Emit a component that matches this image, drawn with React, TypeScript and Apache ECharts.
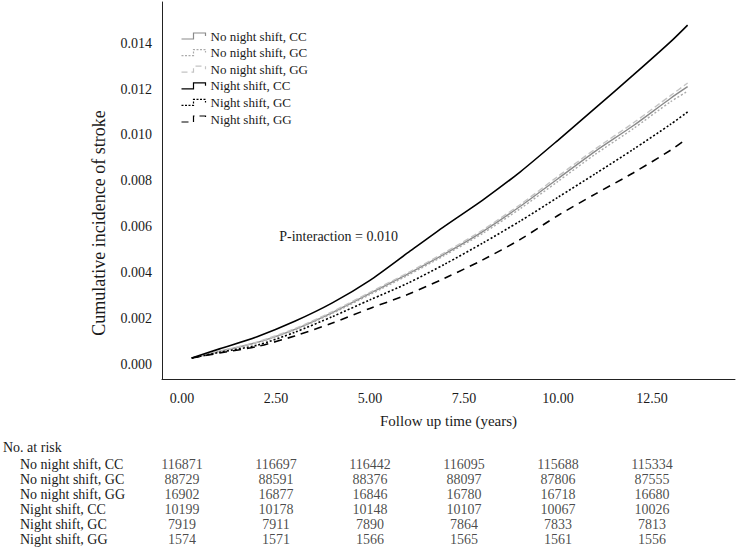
import React, { useEffect, useRef } from "react";
import * as echarts from "echarts";

// Follow-up time points (years)
const followUp = [0.26, 1, 2, 3, 4, 5, 6, 7, 8, 9, 10, 11, 12, 13, 13.45];
const followUpNightGG = [0.26, 1, 2, 3, 4, 5, 6, 7, 8, 9, 10, 11, 12, 13, 13.38];

// Cumulative incidence of stroke
const noNightCC = [0.0003, 0.00059, 0.00098, 0.00155, 0.00228, 0.00311, 0.00395, 0.00484, 0.0058, 0.0069, 0.0081, 0.0093, 0.0104, 0.0116, 0.0121];
const noNightGC = [0.0003, 0.00058, 0.00096, 0.00152, 0.00224, 0.00306, 0.00389, 0.00478, 0.00572, 0.0068, 0.00798, 0.00917, 0.01027, 0.01145, 0.0119];
const noNightGG = [0.0003, 0.0006, 0.001, 0.00158, 0.00232, 0.00316, 0.004, 0.0049, 0.00587, 0.00698, 0.0082, 0.0094, 0.01052, 0.01172, 0.01226];
const nightCC = [0.0003, 0.0007, 0.00123, 0.0019, 0.0027, 0.00368, 0.00487, 0.00605, 0.00717, 0.0084, 0.00977, 0.01118, 0.0126, 0.01406, 0.01478];
const nightGC = [0.0003, 0.00055, 0.00086, 0.00142, 0.0021, 0.00283, 0.00355, 0.00439, 0.0053, 0.00626, 0.00729, 0.00832, 0.00937, 0.01047, 0.011];
const nightGG = [0.0003, 0.00052, 0.0008, 0.00126, 0.00182, 0.00246, 0.00306, 0.00378, 0.00457, 0.00546, 0.0065, 0.00744, 0.00835, 0.00934, 0.00978];

// Axis ticks
const xTicks = [0, 2.5, 5, 7.5, 10, 12.5];
const yTicks = [0, 0.002, 0.004, 0.006, 0.008, 0.01, 0.012, 0.014];

// Number at risk table
const riskTimes = [0, 2.5, 5, 7.5, 10, 12.5];
const groupNames = [
  "No night shift, CC",
  "No night shift, GC",
  "No night shift, GG",
  "Night shift, CC",
  "Night shift, GC",
  "Night shift, GG",
];
const riskNoNightCC = [116871, 116697, 116442, 116095, 115688, 115334];
const riskNoNightGC = [88729, 88591, 88376, 88097, 87806, 87555];
const riskNoNightGG = [16902, 16877, 16846, 16780, 16718, 16680];
const riskNightCC = [10199, 10178, 10148, 10107, 10067, 10026];
const riskNightGC = [7919, 7911, 7890, 7864, 7833, 7813];
const riskNightGG = [1574, 1571, 1566, 1565, 1561, 1556];

const FONT = "'Liberation Serif', 'Times New Roman', serif";
const TXT = "#1a1a1a";

export default function App() {
  const ref = useRef<HTMLDivElement>(null);

  useEffect(() => {
    document.body.style.margin = "0";
    if (!ref.current) return;
    const chart = echarts.init(ref.current, undefined, { renderer: "svg" });

    const curveDefs = [
      { name: groupNames[0], t: followUp, v: noNightCC, color: "#8a8a8a", dash: "solid" as any, dashIcon: "solid" as any, w: 1.4 },
      { name: groupNames[1], t: followUp, v: noNightGC, color: "#ababab", dash: [2, 2], dashIcon: [2, 1.5], w: 1.4 },
      { name: groupNames[2], t: followUp, v: noNightGG, color: "#c4c4c4", dash: [6, 3], dashIcon: [6, 4], w: 1.4 },
      { name: groupNames[3], t: followUp, v: nightCC, color: "#000000", dash: "solid" as any, dashIcon: "solid" as any, w: 1.6 },
      { name: groupNames[4], t: followUp, v: nightGC, color: "#000000", dash: [2, 2], dashIcon: [2, 1.5], w: 1.6 },
      { name: groupNames[5], t: followUpNightGG, v: nightGG, color: "#000000", dash: [8, 6], dashIcon: [7, 5], w: 1.6 },
    ];

    const riskRows = [riskNoNightCC, riskNoNightGC, riskNoNightGG, riskNightCC, riskNightGC, riskNightGG];
    const riskData: any[] = [];
    riskRows.forEach((row, r) => {
      row.forEach((n, i) => riskData.push([riskTimes[i], groupNames[r], n]));
    });

    const iconPath = "path://M0,6 L12,6 L12,0 L24,0 L24,3";

    chart.setOption({
      animation: false,
      backgroundColor: "#ffffff",
      textStyle: { fontFamily: FONT },
      grid: [
        { left: 162, top: 2, width: 573, height: 377 },
        { left: 162, top: 457, width: 573, height: 90 },
      ],
      xAxis: [
        {
          type: "value",
          gridIndex: 0,
          min: -0.53,
          max: 14.71,
          name: "Follow up time (years)",
          nameLocation: "middle",
          nameGap: 34,
          nameTextStyle: { fontFamily: FONT, fontSize: 15, color: TXT },
          axisLine: { show: true, onZero: false, lineStyle: { color: "#222", width: 1 } },
          axisTick: { show: false },
          splitLine: { show: false },
          axisLabel: {
            customValues: xTicks,
            formatter: (v: number) => v.toFixed(2),
            fontFamily: FONT,
            fontSize: 14,
            color: TXT,
            margin: 12,
          },
        },
        {
          type: "value",
          gridIndex: 1,
          min: -0.53,
          max: 14.71,
          show: false,
        },
      ],
      yAxis: [
        {
          type: "value",
          gridIndex: 0,
          min: -0.00061,
          max: 0.015783,
          axisLine: { show: true, onZero: false, lineStyle: { color: "#222", width: 1 } },
          axisTick: { show: false },
          splitLine: { show: false },
          axisLabel: {
            customValues: yTicks,
            formatter: (v: number) => v.toFixed(3),
            fontFamily: FONT,
            fontSize: 14,
            color: TXT,
            margin: 10,
          },
        },
        {
          type: "category",
          gridIndex: 1,
          data: groupNames,
          inverse: true,
          axisLine: { show: false },
          axisTick: { show: false },
          splitLine: { show: false },
          axisLabel: {
            interval: 0,
            align: "left",
            margin: 142,
            fontFamily: FONT,
            fontSize: 14,
            color: TXT,
          },
        },
      ],
      legend: {
        orient: "vertical",
        left: 179,
        top: 29,
        padding: 0,
        itemWidth: 24,
        itemHeight: 6,
        itemGap: 2.6,
        selectedMode: false,
        textStyle: { fontFamily: FONT, fontSize: 13, color: TXT, lineHeight: 14 },
        data: curveDefs.map((c) => ({
          name: c.name,
          icon: iconPath,
          itemStyle: {
            color: "none",
            borderColor: c.color,
            borderWidth: 1.2,
            borderType: c.dashIcon,
          },
        })),
      },
      graphic: [
        {
          type: "text",
          x: 99,
          y: 223,
          rotation: Math.PI / 2,
          style: {
            text: "Cumulative incidence of stroke",
            font: `18px ${FONT}`,
            fill: TXT,
            align: "center",
            verticalAlign: "middle",
          },
        },
        {
          type: "text",
          x: 398,
          y: 236,
          style: {
            text: "P-interaction = 0.010",
            font: `14px ${FONT}`,
            fill: TXT,
            align: "right",
            verticalAlign: "middle",
          },
        },
        {
          type: "text",
          x: 3,
          y: 447,
          style: {
            text: "No. at risk",
            font: `14px ${FONT}`,
            fill: TXT,
            align: "left",
            verticalAlign: "middle",
          },
        },
      ],
      series: [
        ...curveDefs.map((c) => ({
          name: c.name,
          type: "line",
          xAxisIndex: 0,
          yAxisIndex: 0,
          data: c.t.map((t, i) => [t, c.v[i]]),
          showSymbol: false,
          symbol: "none",
          smooth: 0.25,
          lineStyle: { color: c.color, width: c.w, type: c.dash },
          itemStyle: { color: c.color },
          z: c.color === "#000000" ? 3 : 2,
        })),
        {
          name: "No. at risk",
          type: "scatter",
          xAxisIndex: 1,
          yAxisIndex: 1,
          data: riskData,
          symbol: "circle",
          symbolSize: 1,
          itemStyle: { color: "rgba(0,0,0,0)" },
          label: {
            show: true,
            position: "inside",
            formatter: (p: any) => String(p.value[2]),
            fontFamily: FONT,
            fontSize: 14,
            color: TXT,
          },
        },
      ],
    });

    return () => chart.dispose();
  }, []);

  return <div ref={ref} style={{ width: 738, height: 548 }} />;
}
